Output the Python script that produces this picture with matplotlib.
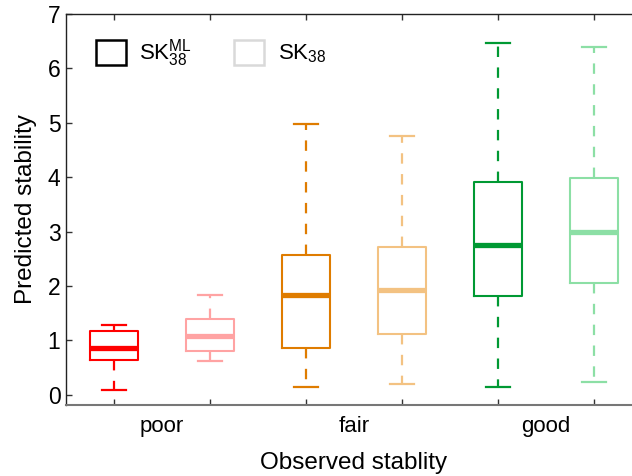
import matplotlib
matplotlib.use("Agg")
import matplotlib.pyplot as plt
from matplotlib.patches import Patch

plt.rcParams['font.family'] = ['Liberation Sans', 'DejaVu Sans']
plt.rcParams['mathtext.fontset'] = 'custom'
plt.rcParams['mathtext.rm'] = 'Liberation Sans'
plt.rcParams['mathtext.it'] = 'Liberation Sans:italic'
plt.rcParams['mathtext.bf'] = 'Liberation Sans:bold'
plt.rcParams['lines.scale_dashes'] = False

categories = ['poor', 'fair', 'good']
series = ['SK$_{38}^{\\mathrm{ML}}$', 'SK$_{38}$']
# order: poor-ML, poor, fair-ML, fair, good-ML, good
whisker_low = [0.09, 0.61, 0.14, 0.20, 0.15, 0.24]
q1 = [0.63, 0.80, 0.86, 1.12, 1.81, 2.06]
median = [0.86, 1.08, 1.84, 1.92, 2.75, 3.00]
q3 = [1.17, 1.39, 2.57, 2.72, 3.91, 3.98]
whisker_high = [1.29, 1.83, 4.98, 4.76, 6.46, 6.40]
colors = ['#ff0000', '#ffa3a3', '#df7c00', '#f3c282', '#009933', '#8cdfa5']

fig = plt.figure(figsize=(6.32, 4.76), dpi=100)
ax = fig.add_axes([66/632, 1-405/476, (642-66)/632, (405-14)/476])

positions = list(range(1, len(median)+1))
stats = []
for i in range(len(median)):
    stats.append(dict(whislo=whisker_low[i], q1=q1[i], med=median[i],
                      q3=q3[i], whishi=whisker_high[i], fliers=[]))

for i, st in enumerate(stats):
    c = colors[i]
    ax.bxp([st], positions=[positions[i]], widths=0.5, showfliers=False,
           boxprops=dict(color=c, linewidth=1.5),
           medianprops=dict(color=c, linewidth=3.8, solid_capstyle='butt'),
           whiskerprops=dict(color=c, linewidth=1.6, linestyle=(0, (7.5, 7.5))),
           capprops=dict(color=c, linewidth=1.6),
           capwidths=0.25)

ax.set_xlim(0.5, 6.5)
ax.set_ylim(-0.19, 7)
ax.set_yticks(range(0, 8))
ax.set_xticks(positions)
ax.set_xticklabels([''] * len(positions))
ax.set_xticks([1.5, 3.5, 5.5], minor=True)
ax.set_xticklabels(categories, minor=True)
ax.tick_params(axis='x', which='minor', length=0, pad=8, labelsize=16)
ax.tick_params(axis='x', which='major', direction='in', length=4, top=True,
               width=1, color='#333333')
ax.tick_params(axis='y', direction='in', length=4, labelsize=16.5, width=1,
               color='#333333', pad=4)
for s in ['left', 'top']:
    ax.spines[s].set_color('#222222')
    ax.spines[s].set_linewidth(1.0)
ax.spines['bottom'].set_color('#777777')
ax.spines['bottom'].set_linewidth(1.5)
ax.spines['right'].set_visible(False)

ax.set_xlabel('Observed stablity', fontsize=17.5, labelpad=11)
ax.set_ylabel('Predicted stability', fontsize=17.5, labelpad=8)

handles = [Patch(facecolor='none', edgecolor='black', linewidth=1.8),
           Patch(facecolor='none', edgecolor='#d9d9d9', linewidth=1.8)]
ax.legend(handles, series, loc='upper left', bbox_to_anchor=(0.052, 0.94),
          ncol=2, frameon=False, fontsize=16, handlelength=1.35,
          handleheight=1.35, handletextpad=0.6, columnspacing=1.9,
          borderpad=0, borderaxespad=0)

fig.savefig('out.png', dpi=100)
